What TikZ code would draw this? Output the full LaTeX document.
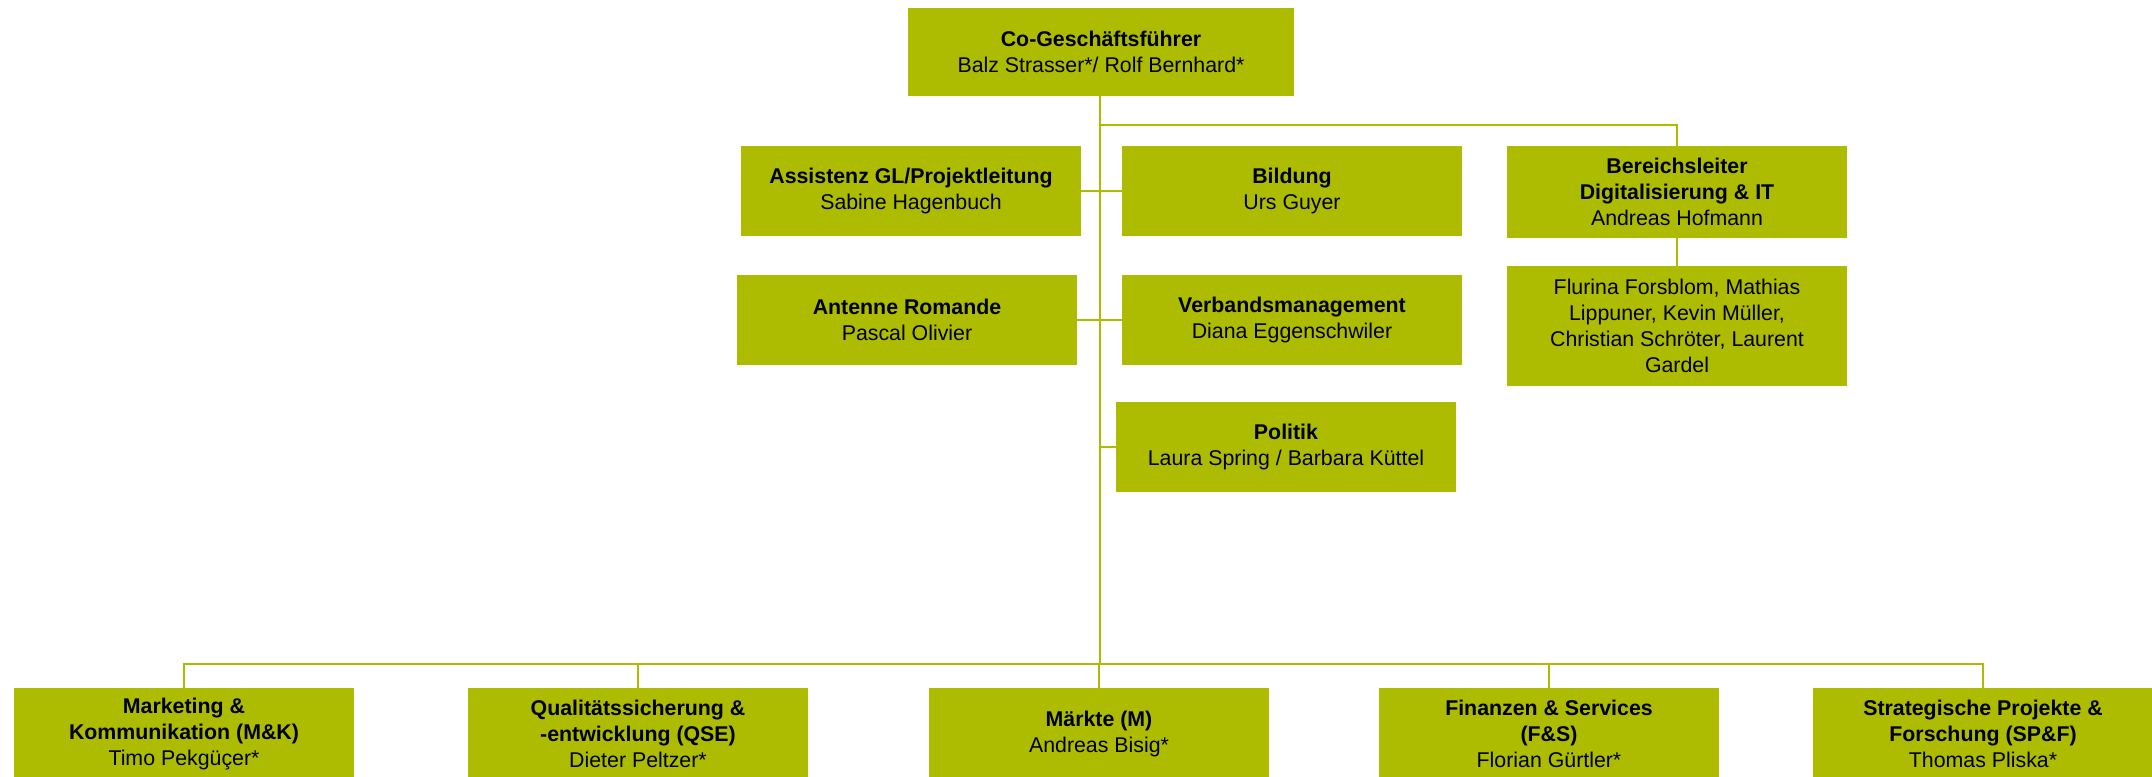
\documentclass[tikz,border=0pt]{standalone}
\usepackage{fontspec}
\setmainfont{Liberation Sans}
\usepackage{xcolor}
\usepackage{tikz}

\definecolor{olivebox}{RGB}{173,188,0}

\tikzset{
  orgbox/.style={fill=olivebox, inner sep=0pt, align=center, text=black,
    minimum width=255pt, minimum height=67pt,
    font=\fontsize{16}{19.5}\selectfont},
  orgline/.style={draw=olivebox, line width=1.5pt}
}

\begin{document}
\begin{tikzpicture}[x=0.75pt,y=0.75pt,yscale=-1,xscale=1]

\useasboundingbox (0,0) rectangle (2152,776);

% Geschaeftsleitung
\node[orgbox, minimum width=290pt, minimum height=66pt] (gf) at (1101,52) {\textbf{Co-Geschäftsführer}\\Balz Strasser*/ Rolf Bernhard*};

% Stab
\node[orgbox] (assist) at (911,191) {\textbf{Assistenz GL/Projektleitung}\\Sabine Hagenbuch};

\node[orgbox] (bildung) at (1292,191) {\textbf{Bildung}\\Urs Guyer};

\node[orgbox] (antenne) at (907,320) {\textbf{Antenne Romande}\\Pascal Olivier};

\node[orgbox] (verband) at (1292,320) {\textbf{Verbandsmanagement}\\Diana Eggenschwiler};

\node[orgbox] (politik) at (1286,447) {\textbf{Politik}\\Laura Spring / Barbara Küttel};

\node[orgbox, minimum height=69pt] (bereich) at (1677,192) {\textbf{Bereichsleiter}\\\textbf{Digitalisierung \& IT}\\Andreas Hofmann};

\node[orgbox, minimum height=90pt] (team) at (1677,326) {Flurina Forsblom, Mathias\\Lippuner, Kevin Müller,\\Christian Schröter, Laurent\\Gardel};

% Bereiche
\node[orgbox, minimum height=69pt] (mk) at (184,734) {\textbf{Marketing \&}\\\textbf{Kommunikation (M\&K)}\\Timo Pekgüçer*};

\node[orgbox, minimum height=69pt] (qse) at (638,734) {\textbf{Qualitätssicherung \&}\\\textbf{-entwicklung (QSE)}\\Dieter Peltzer*};

\node[orgbox, minimum height=69pt] (mkt) at (1099,734) {\textbf{Märkte (M)}\\Andreas Bisig*};

\node[orgbox, minimum height=69pt] (fs) at (1549,734) {\textbf{Finanzen \& Services}\\\textbf{(F\&S)}\\Florian Gürtler*};

\node[orgbox, minimum height=69pt] (sp) at (1983,734) {\textbf{Strategische Projekte \&}\\\textbf{Forschung (SP\&F)}\\Thomas Pliska*};

\coordinate (bus) at (1100,664);

\coordinate (stab) at (1100,125);

% Linien
\draw[orgline] (gf.south -| bus) -- (bus);

\draw[orgline] (stab) -| (bereich.north);

\draw[orgline] (bereich) -- (team);

\draw[orgline] (assist.east) -- (bildung.west);

\draw[orgline] (antenne.east) -- (verband.west);

\draw[orgline] (politik.west -| bus) -- (politik.west);

\draw[orgline] (mk.north) |- (bus) -| (sp.north);

\draw[orgline] (qse.north) -- (qse.north |- bus);

\draw[orgline] (mkt.north) -- (mkt.north |- bus);

\draw[orgline] (fs.north) -- (fs.north |- bus);

\end{tikzpicture}
\end{document}
